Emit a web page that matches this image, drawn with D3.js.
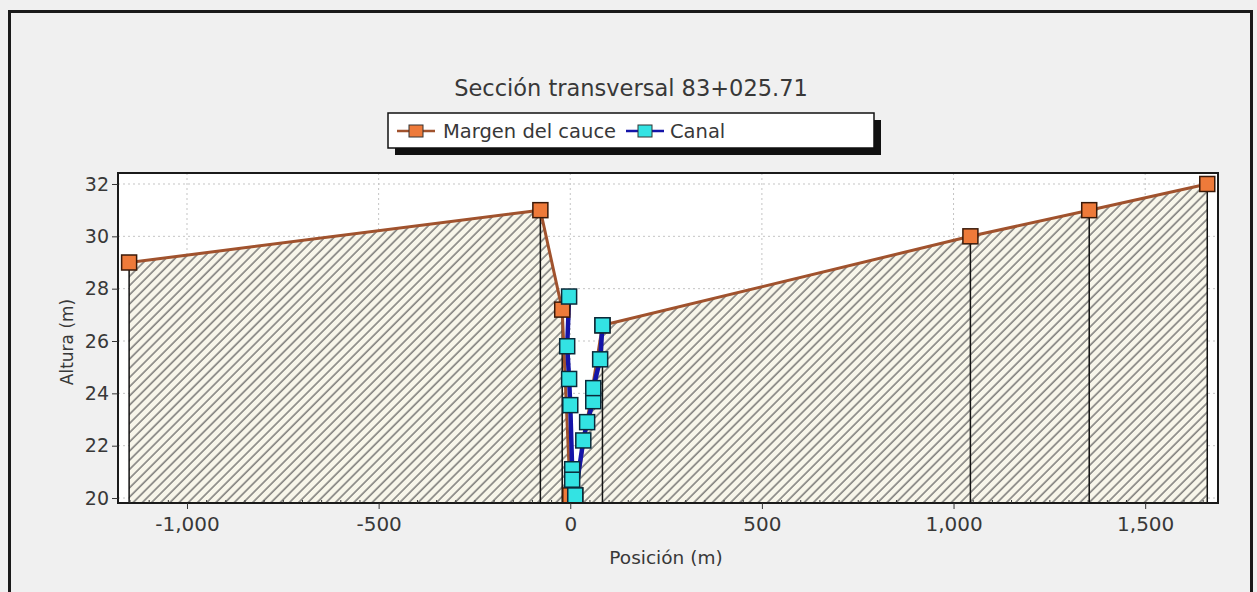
<!DOCTYPE html>
<html>
<head>
<meta charset="utf-8">
<script src="https://cdn.jsdelivr.net/npm/d3@7"></script>
<style>
  body { margin: 0; background: #f0f0f0; }
  svg text { font-family: "DejaVu Sans", Verdana, sans-serif; fill: #383838; }
</style>
</head>
<body>
<svg id="chart" width="1257" height="592"></svg>
<script>
// Margen del cauce (posición m, altura m)
const marginX = [-1151, -78, -21, 0, 13, 84, 1044, 1354, 1662];
const marginY = [29, 31, 27.2, 20.1, 20.1, 26.6, 30, 31, 32];
// Canal
const canalX = [-3, -8, -3, 0, 5, 5, 13, 34, 44, 60, 60, 78, 84];
const canalY = [27.7, 25.8, 24.55, 23.55, 21.1, 20.7, 20.1, 22.2, 22.9, 23.7, 24.2, 25.3, 26.6];
// ticks
const xTicks = [-1000, -500, 0, 500, 1000, 1500];
const yTicks = [20, 22, 24, 26, 28, 30, 32];

const title = 'Sección transversal 83+025.71';
const seriesNames = ['Margen del cauce', 'Canal'];

const margin = d3.zip(marginX, marginY);
const canal = d3.zip(canalX, canalY);

const svg = d3.select('#chart');
const plot = {left: 118, top: 173, right: 1218, bottom: 503};

const xScale = d3.scaleLinear().domain([-1180, 1690]).range([plot.left, plot.right]);
const yScale = d3.scaleLinear().domain([19.81, 32.42]).range([plot.bottom, plot.top]);

// outer frame
svg.append('rect').attr('x', 9.5).attr('y', 11.5).attr('width', 1242).attr('height', 620)
  .attr('fill', '#f0f0f0').attr('stroke', '#1a1a1a').attr('stroke-width', 3);

// hatch pattern
const defs = svg.append('defs');
const pat = defs.append('pattern').attr('id', 'hatch')
  .attr('patternUnits', 'userSpaceOnUse').attr('width', 6.5).attr('height', 6.5)
  .attr('patternTransform', 'rotate(45)');
pat.append('rect').attr('width', 6.5).attr('height', 6.5).attr('fill', '#f8f6ea');
pat.append('line').attr('x1', 1).attr('y1', 0).attr('x2', 1).attr('y2', 6.5)
  .attr('stroke', '#5a5a5a').attr('stroke-width', 1.2);
defs.append('clipPath').attr('id', 'clip').append('rect')
  .attr('x', plot.left).attr('y', plot.top)
  .attr('width', plot.right - plot.left).attr('height', plot.bottom - plot.top);

// title
svg.append('text').attr('x', 631).attr('y', 96).attr('text-anchor', 'middle')
  .style('font-size', '22.5px').text(title);

// legend
const lg = svg.append('g');
lg.append('rect').attr('x', 395).attr('y', 120).attr('width', 486).attr('height', 35).attr('fill', '#111');
lg.append('rect').attr('x', 388).attr('y', 113).attr('width', 486).attr('height', 35)
  .attr('fill', '#fff').attr('stroke', '#111').attr('stroke-width', 1.5);
const legendItems = [
  {name: seriesNames[0], x0: 397, line: '#a0522d', fill: '#ee7a3a', tx: 443},
  {name: seriesNames[1], x0: 626, line: '#1414a8', fill: '#33e3e3', tx: 670}
];
legendItems.forEach(d => {
  lg.append('line').attr('x1', d.x0).attr('x2', d.x0 + 38).attr('y1', 131).attr('y2', 131)
    .attr('stroke', d.line).attr('stroke-width', 2.5);
  lg.append('rect').attr('x', d.x0 + 12).attr('y', 125).attr('width', 14).attr('height', 12)
    .attr('fill', d.fill).attr('stroke', '#333').attr('stroke-width', 1);
  lg.append('text').attr('x', d.tx).attr('y', 137.5).style('font-size', '19.5px').text(d.name);
});

// plot background
svg.append('rect').attr('x', plot.left).attr('y', plot.top)
  .attr('width', plot.right - plot.left).attr('height', plot.bottom - plot.top).attr('fill', '#fff');

// grid
const grid = svg.append('g');
yTicks.forEach(t => {
  grid.append('line').attr('x1', plot.left).attr('x2', plot.right)
    .attr('y1', yScale(t)).attr('y2', yScale(t))
    .attr('stroke', '#c4c4c4').attr('stroke-dasharray', '2,3');
});
xTicks.forEach(t => {
  grid.append('line').attr('y1', plot.top).attr('y2', plot.bottom)
    .attr('x1', xScale(t)).attr('x2', xScale(t))
    .attr('stroke', '#c4c4c4').attr('stroke-dasharray', '2,3');
});

const g = svg.append('g').attr('clip-path', 'url(#clip)');

// hatched ground
const area = d3.area().x(d => xScale(d[0])).y0(yScale(19.81)).y1(d => yScale(d[1]));
g.append('path').datum(margin).attr('d', area).attr('fill', 'url(#hatch)');

// drop lines
g.selectAll('.drop').data(margin).join('line').attr('class', 'drop')
  .attr('x1', d => xScale(d[0])).attr('x2', d => xScale(d[0]))
  .attr('y1', d => yScale(d[1])).attr('y2', plot.bottom)
  .attr('stroke', '#111').attr('stroke-width', 1.5);

const line = d3.line().x(d => xScale(d[0])).y(d => yScale(d[1]));
g.append('path').datum(margin).attr('d', line).attr('fill', 'none')
  .attr('stroke', '#a0522d').attr('stroke-width', 3);
g.append('path').datum(canal).attr('d', line).attr('fill', 'none')
  .attr('stroke', '#1414a8').attr('stroke-width', 4.5);

g.selectAll('.mm').data(margin).join('rect').attr('class', 'mm')
  .attr('x', d => xScale(d[0]) - 7.5).attr('y', d => yScale(d[1]) - 7.5)
  .attr('width', 15).attr('height', 15)
  .attr('fill', '#ee7a3a').attr('stroke', '#3a1a0a').attr('stroke-width', 1.5);
g.selectAll('.cm').data(canal).join('rect').attr('class', 'cm')
  .attr('x', d => xScale(d[0]) - 7.5).attr('y', d => yScale(d[1]) - 7.5)
  .attr('width', 15).attr('height', 15)
  .attr('fill', '#33e3e3').attr('stroke', '#0a2a3a').attr('stroke-width', 1.5);

// plot border
svg.append('rect').attr('x', plot.left).attr('y', plot.top)
  .attr('width', plot.right - plot.left).attr('height', plot.bottom - plot.top)
  .attr('fill', 'none').attr('stroke', '#1a1a1a').attr('stroke-width', 2);

// axes
const fmt = d => d3.format(',')(d).replace('\u2212', '-');
const xAxis = svg.append('g').attr('transform', `translate(0,${plot.bottom})`)
  .call(d3.axisBottom(xScale).tickValues(xTicks).tickFormat(fmt).tickSize(6).tickPadding(8));
const minor = d3.range(-1150, 1700, 50).filter(v => v % 500 !== 0);
svg.append('g').attr('transform', `translate(0,${plot.bottom})`)
  .call(d3.axisBottom(xScale).tickValues(minor).tickFormat('').tickSize(-3));
const yAxis = svg.append('g').attr('transform', `translate(${plot.left},0)`)
  .call(d3.axisLeft(yScale).tickValues(yTicks).tickSize(6).tickPadding(3));
svg.selectAll('.domain').remove();
svg.selectAll('.tick line').attr('stroke', '#333');
xAxis.selectAll('text').style('font-size', '20px').attr('fill', '#383838');
yAxis.selectAll('text').style('font-size', '19px').attr('fill', '#383838');

svg.append('text').attr('x', 666).attr('y', 564).attr('text-anchor', 'middle')
  .style('font-size', '18.5px').text('Posición (m)');
svg.append('text').attr('transform', 'translate(73,342) rotate(-90)').attr('text-anchor', 'middle')
  .style('font-size', '17px').text('Altura (m)');
</script>
</body>
</html>
